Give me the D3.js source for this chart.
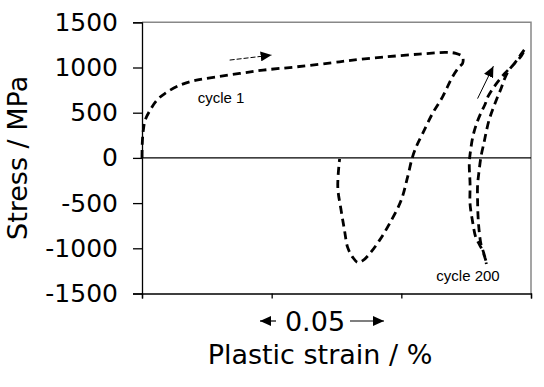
<!DOCTYPE html>
<html>
<head>
<meta charset="utf-8">
<script src="https://cdn.jsdelivr.net/npm/d3@7"></script>
<style>
  body { margin: 0; background: #fff; }
  svg { display: block; }
</style>
</head>
<body>
<div id="chart"></div>
<script>
var w = 544;
var h = 387;

// strain in %, stress in MPa
var cycle1Strain = [0, 0.0001, 0.0005, 0.0012, 0.0031, 0.0057, 0.0088, 0.0146, 0.021, 0.0287, 0.0377, 0.0467, 0.0595, 0.0762, 0.0813, 0.0941, 0.1069, 0.1172, 0.121, 0.1236, 0.1236, 0.1223, 0.1197, 0.1159, 0.112, 0.1082, 0.1057, 0.1042, 0.1024, 0.0999, 0.0954, 0.0915, 0.0877, 0.0851, 0.0832, 0.0813, 0.0793, 0.0781, 0.0768, 0.0755, 0.0762];
var cycle1Stress = [0, 158, 305, 416, 527, 638, 712, 804, 860, 896, 934, 971, 1007, 1063, 1082, 1118, 1148, 1167, 1156, 1118, 1045, 1007, 896, 675, 490, 268, 120, 0, -213, -472, -730, -915, -1063, -1137, -1156, -1101, -990, -804, -583, -324, -10];

var cycle200Strain = [0.1326, 0.1313, 0.13, 0.1287, 0.1274, 0.1265, 0.1265, 0.1262, 0.1267, 0.1277, 0.1292, 0.1308, 0.1323, 0.1335, 0.1354, 0.1377, 0.1396, 0.1415, 0.1427, 0.1446, 0.1462, 0.1477,
  0.1462, 0.1438, 0.1415, 0.1396, 0.1385, 0.1369, 0.1354, 0.1338, 0.1327, 0.1319, 0.1308, 0.13, 0.1294, 0.1294, 0.1296, 0.13, 0.1307, 0.1319, 0.1328];
var cycle200Stress = [-1137, -1026, -952, -879, -693, -508, -286, -64, 83, 250, 394, 505, 594, 682, 771, 860, 926, 982, 1015, 1082, 1148, 1204,
  1126, 1048, 971, 860, 771, 660, 549, 416, 283, 172, 28, -139, -305, -472, -656, -804, -952, -1063, -1174];

var yTicks = [1500, 1000, 500, 0, -500, -1000, -1500];
var xTicks = [0, 0.05, 0.1, 0.15];

// annotation arrows [x1, y1, x2, y2] in data units
var arrow1 = [0.0338, 1082, 0.05, 1137];
var arrow2 = [0.1294, 656, 0.1355, 1015];

var margin = { left: 142, right: 13, top: 22, bottom: 94 };

var svg = d3.select("#chart").append("svg").attr("width", w).attr("height", h);

var x = d3.scaleLinear().domain([0, 0.15]).range([margin.left, w - margin.right]);
var y = d3.scaleLinear().domain([-1500, 1500]).range([h - margin.bottom + 0.5, margin.top + 0.3]);

var defs = svg.append("defs");
defs.append("marker")
  .attr("id", "head")
  .attr("viewBox", "0 0 10 10")
  .attr("refX", 10)
  .attr("refY", 5)
  .attr("markerWidth", 11)
  .attr("markerHeight", 10)
  .attr("markerUnits", "userSpaceOnUse")
  .attr("preserveAspectRatio", "none")
  .attr("orient", "auto")
  .append("path")
  .attr("d", "M0,0L10,5L0,10z")
  .attr("fill", "#000");

// grey frame top and right
svg.append("path")
  .attr("d", "M" + x(0) + "," + y(1500) + "H" + x(0.15) + "V" + y(-1500))
  .attr("fill", "none")
  .attr("stroke", "#888")
  .attr("stroke-width", 1.5);

// zero line
svg.append("line")
  .attr("x1", x(0)).attr("x2", x(0.15))
  .attr("y1", y(0)).attr("y2", y(0))
  .attr("stroke", "#000")
  .attr("stroke-width", 1.3);

var yAxis = svg.append("g")
  .attr("transform", "translate(" + x(0) + ",0)")
  .call(d3.axisLeft(y).tickValues(yTicks).tickSize(9).tickPadding(15).tickFormat(function (d) { return String(d); }));

var xAxis = svg.append("g")
  .attr("transform", "translate(0," + y(-1500) + ")")
  .call(d3.axisBottom(x).tickValues(xTicks).tickSize(5).tickFormat(""));

[yAxis, xAxis].forEach(function (g) {
  g.select(".domain").attr("stroke", "#000").attr("stroke-width", 1.3);
  g.selectAll(".tick line").attr("stroke", "#000").attr("stroke-width", 1.3);
});
yAxis.selectAll("text")
  .attr("font-family", "DejaVu Sans, sans-serif")
  .attr("font-size", "25px")
  .attr("fill", "#000");

var line = d3.line()
  .x(function (d) { return x(d[0]); })
  .y(function (d) { return y(d[1]); })
  .curve(d3.curveCatmullRom);

function drawCurve(xs, ys) {
  svg.append("path")
    .datum(d3.zip(xs, ys))
    .attr("d", line)
    .attr("fill", "none")
    .attr("stroke", "#000")
    .attr("stroke-width", 2.8)
    .attr("stroke-dasharray", "8,5");
}
drawCurve(cycle1Strain, cycle1Stress);
drawCurve(cycle200Strain, cycle200Stress);

svg.append("line")
  .attr("x1", x(arrow1[0])).attr("y1", y(arrow1[1]))
  .attr("x2", x(arrow1[2])).attr("y2", y(arrow1[3]))
  .attr("stroke", "#000").attr("stroke-width", 1)
  .attr("stroke-dasharray", "5,2")
  .attr("marker-end", "url(#head)");

svg.append("line")
  .attr("x1", x(arrow2[0])).attr("y1", y(arrow2[1]))
  .attr("x2", x(arrow2[2])).attr("y2", y(arrow2[3]))
  .attr("stroke", "#000").attr("stroke-width", 1)
  .attr("marker-end", "url(#head)");

svg.append("text")
  .attr("x", x(0.0215)).attr("y", y(605))
  .attr("font-family", "Liberation Sans, Arial, sans-serif")
  .attr("font-size", "15px")
  .text("cycle 1");

svg.append("text")
  .attr("x", x(0.1135)).attr("y", y(-1359))
  .attr("font-family", "Liberation Sans, Arial, sans-serif")
  .attr("font-size", "15px")
  .text("cycle 200");

// axis titles
svg.append("text")
  .attr("transform", "translate(27," + y(0) + ") rotate(-90)")
  .attr("text-anchor", "middle")
  .attr("font-family", "DejaVu Sans, sans-serif")
  .attr("font-size", "27px")
  .text("Stress / MPa");

svg.append("text")
  .attr("x", 320).attr("y", 364)
  .attr("text-anchor", "middle")
  .attr("font-family", "DejaVu Sans, sans-serif")
  .attr("font-size", "27px")
  .text("Plastic strain / %");

// scale bar for 0.05
svg.append("text")
  .attr("x", 315).attr("y", 331)
  .attr("text-anchor", "middle")
  .attr("font-family", "DejaVu Sans, sans-serif")
  .attr("font-size", "27px")
  .text("0.05");

svg.append("line")
  .attr("x1", 276).attr("y1", 321).attr("x2", 260).attr("y2", 321)
  .attr("stroke", "#000").attr("stroke-width", 1.2)
  .attr("marker-end", "url(#head)");
svg.append("line")
  .attr("x1", 350).attr("y1", 321).attr("x2", 384).attr("y2", 321)
  .attr("stroke", "#000").attr("stroke-width", 1.2)
  .attr("marker-end", "url(#head)");
</script>
</body>
</html>
